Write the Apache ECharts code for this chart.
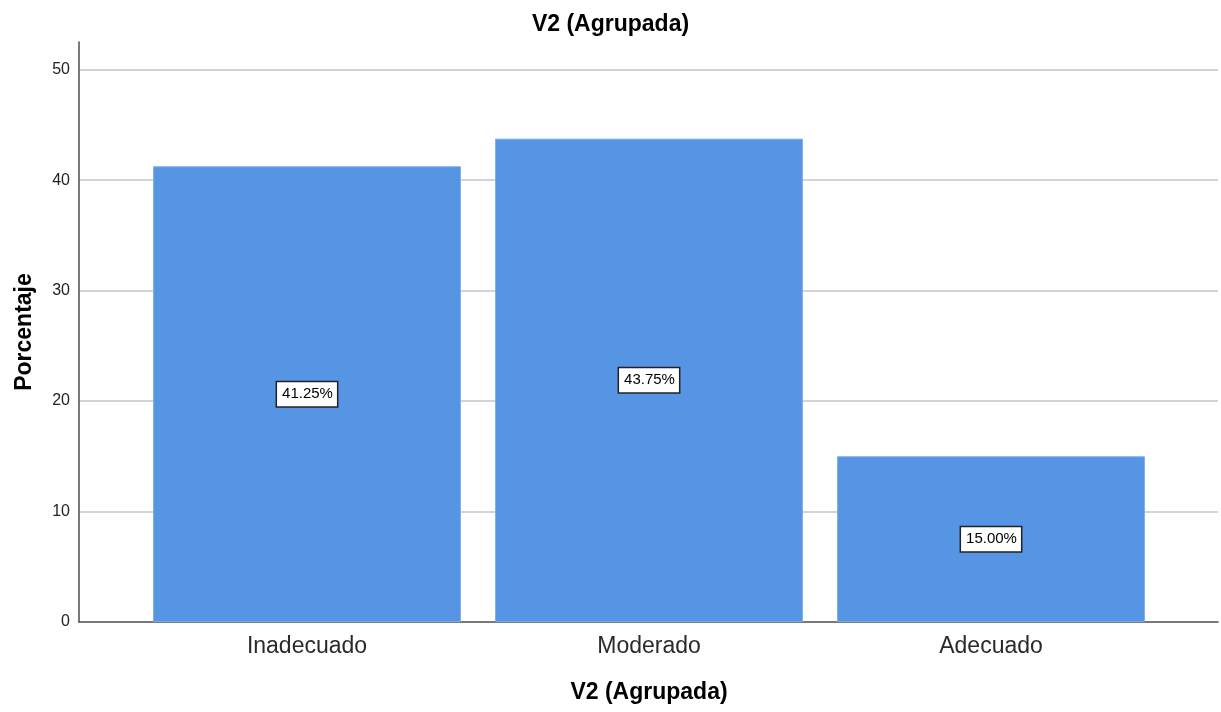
<!DOCTYPE html>
<html><head><meta charset="utf-8">
<script src="https://cdn.jsdelivr.net/npm/echarts@6/dist/echarts.min.js"></script>
<style>html,body{margin:0;padding:0;background:#fff}#c{width:1221px;height:712px}</style>
</head><body><div id="c"></div>
<script>
const categories = ['Inadecuado', 'Moderado', 'Adecuado'];
const percentages = [41.25, 43.75, 15.00];
const yTicks = [0, 10, 20, 30, 40, 50];

const F = '"Liberation Sans", Arial, sans-serif';
const chart = echarts.init(document.getElementById('c'));
chart.setOption({
  animation: false,
  title: { text: 'V2 (Agrupada)', left: 'center', top: 8,
    textStyle: { fontFamily: F, fontSize: 23, fontWeight: 'bold', color: '#000' } },
  grid: [
    { left: 79, right: 3, top: 42, bottom: 90 },
    { left: 136, right: 59, top: 42, bottom: 90 }
  ],
  xAxis: [
    { type: 'value', gridIndex: 0, min: 0, max: 1, axisLabel: { show: false }, axisTick: { show: false },
      splitLine: { show: false }, axisLine: { show: true, onZero: false, lineStyle: { color: '#4d4d4d', width: 1.5 } } },
    { type: 'category', gridIndex: 1, data: categories, axisTick: { show: false },
      axisLine: { show: false },
      axisLabel: { fontFamily: F, fontSize: 23, color: '#2a2a2a', margin: 13 },
      name: 'V2 (Agrupada)', nameLocation: 'middle', nameGap: 59,
      nameTextStyle: { fontFamily: F, fontSize: 23, fontWeight: 'bold', color: '#000' } }
  ],
  yAxis: [
    { type: 'value', gridIndex: 0, min: 0, max: 52.5, interval: 10,
      axisLine: { show: true, lineStyle: { color: '#4d4d4d', width: 1.5 } },
      axisTick: { show: false },
      axisLabel: { fontFamily: F, fontSize: 16, color: '#222', margin: 9, showMaxLabel: false,
        formatter: v => yTicks.includes(v) ? String(v) : '' },
      splitLine: { show: true, showMaxLine: false, showMinLine: false, lineStyle: { color: '#d4d4d4', width: 2 } },
      name: 'Porcentaje', nameLocation: 'middle', nameGap: 43, nameRotate: 90,
      nameTextStyle: { fontFamily: F, fontSize: 23, fontWeight: 'bold', color: '#000' } },
    { type: 'value', gridIndex: 1, min: 0, max: 52.5, interval: 10, show: false }
  ],
  series: [{
    type: 'bar', xAxisIndex: 1, yAxisIndex: 1, data: percentages,
    barCategoryGap: '10%',
    itemStyle: { color: '#5595e4', borderColor: '#7aacea', borderWidth: 1 },
    label: { show: true, position: 'inside', formatter: p => p.value.toFixed(2) + '%',
      fontFamily: F, fontSize: 15, color: '#000', backgroundColor: '#fff',
      borderColor: '#222', borderWidth: 1.5, padding: [5, 4, 4, 5] }
  }]
});
</script></body></html>
